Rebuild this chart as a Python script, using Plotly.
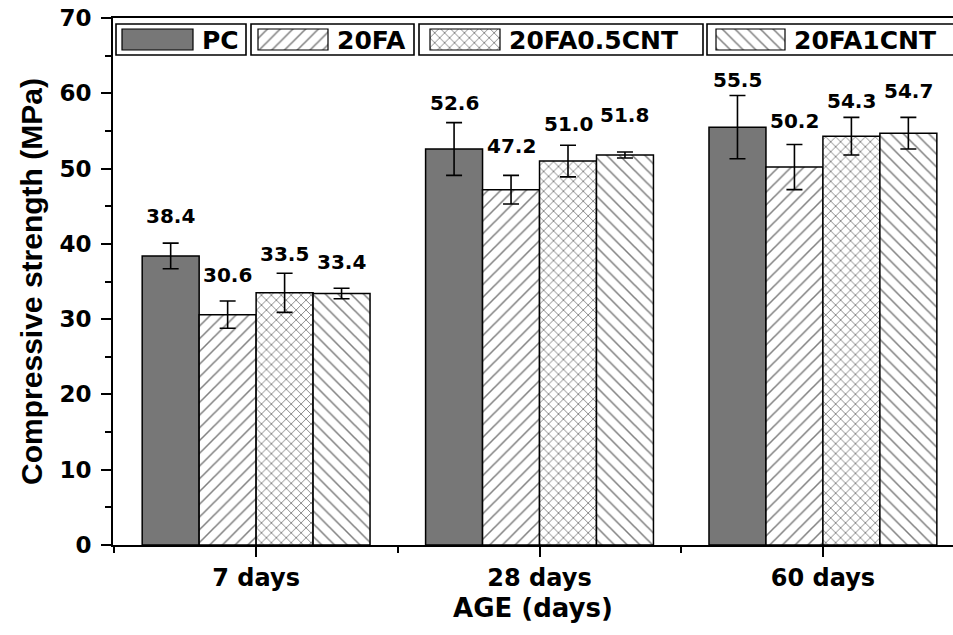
import plotly.graph_objects as go

# ---------------- data ----------------
categories = ["7 days", "28 days", "60 days"]
series_names = ["PC", "20FA", "20FA0.5CNT", "20FA1CNT"]
pc_vals = [38.4, 52.6, 55.5]
fa_vals = [30.6, 47.2, 50.2]
cnt05_vals = [33.5, 51.0, 54.3]
cnt1_vals = [33.4, 51.8, 54.7]
pc_err = [1.7, 3.5, 4.2]
fa_err = [1.8, 1.9, 3.0]
cnt05_err = [2.6, 2.1, 2.5]
cnt1_err = [0.7, 0.4, 2.1]

values = [pc_vals, fa_vals, cnt05_vals, cnt1_vals]
errors = [pc_err, fa_err, cnt05_err, cnt1_err]

# ---------------- styles ----------------
FONT_W = "DejaVu Sans, Verdana, sans-serif"
FONT_A = "Liberation Sans, Arial, sans-serif"
patterns = ["", "/", "x", "\\"]
pat_size = [0, 9, 7, 9]
pat_solid = [0, 0.17, 0.24, 0.17]
fills = ["#777777", "white", "white", "white"]
# label offsets above bar value, in pixels (per series, per category)
label_shift = [[40, 46, 47], [40, 44, 46], [39, 37, 35], [32, 40, 42]]

bargap = 0.196
group_w = 1 - bargap
bar_w = group_w / 4


def marker_for(i, lw):
    m = dict(color=fills[i], line=dict(color="black", width=lw))
    if patterns[i]:
        m["pattern"] = dict(shape=patterns[i], fgcolor="black", bgcolor="white",
                            size=pat_size[i], solidity=pat_solid[i])
    return m


fig = go.Figure()
xs = list(range(len(categories)))
for i, name in enumerate(series_names):
    fig.add_trace(go.Bar(
        x=xs, y=values[i], name=name, showlegend=False,
        marker=marker_for(i, 1.5),
        error_y=dict(type="data", array=errors[i], color="black", thickness=1.6, width=8),
    ))

annotations = []
for i in range(4):
    for j, x in enumerate(xs):
        cx = x - group_w / 2 + (i + 0.5) * bar_w
        annotations.append(dict(
            x=cx, y=values[i][j], xref="x", yref="y", text="<b>%.1f</b>" % values[i][j],
            showarrow=False, yshift=label_shift[i][j],
            font=dict(family=FONT_W, size=20, color="black")))

# ---------------- custom legend (pixel overlay axes) ----------------
box_x = [(116, 246), (251, 414), (419, 703), (707, 980)]
sw_x = [(122, 193), (258, 328), (430, 500), (716, 785)]
txt_x = [200, 335, 507, 792]
box_y = (24, 55)
sw_y = (29, 50)
shapes = []
for i, name in enumerate(series_names):
    shapes.append(dict(type="rect", xref="x2", yref="y2", x0=box_x[i][0], x1=box_x[i][1],
                       y0=box_y[0], y1=box_y[1], line=dict(color="black", width=1.6),
                       fillcolor="white", layer="below"))
    fig.add_trace(go.Bar(
        x=[sw_x[i][0]], y=[sw_y[1] - sw_y[0]], base=[sw_y[0]], width=[sw_x[i][1] - sw_x[i][0]],
        offset=0, xaxis="x2", yaxis="y2", showlegend=False, hoverinfo="skip",
        marker=marker_for(i, 1.2)))
    annotations.append(dict(x=txt_x[i], y=(box_y[0] + box_y[1]) / 2 + 1, xref="x2", yref="y2",
                            text="<b>%s</b>" % name, showarrow=False, xanchor="left",
                            font=dict(family=FONT_W, size=25, color="black")))

fig.update_layout(
    width=953, height=635,
    margin=dict(l=113, r=0, t=18, b=90),
    paper_bgcolor="white", plot_bgcolor="white",
    barmode="group", bargap=bargap, bargroupgap=0,
    showlegend=False,
    annotations=annotations, shapes=shapes,
    xaxis=dict(range=[-0.505, 2.459], tickmode="array", tickvals=xs, ticktext=categories,
               ticks="outside", ticklen=10, tickwidth=1.6, tickcolor="black",
               minor=dict(tickmode="array", tickvals=[-0.5, 0.5, 1.5], ticks="outside",
                          ticklen=6, tickwidth=1.6, tickcolor="black"),
               showline=True, linecolor="black", linewidth=1.6, mirror=True,
               showgrid=False, zeroline=False,
               tickfont=dict(family=FONT_W, size=24, color="black", weight="bold"),
               title=dict(text="AGE (days)", standoff=8,
                          font=dict(family=FONT_W, size=26, color="black", weight="bold"))),
    yaxis=dict(range=[0, 70], dtick=10, ticks="outside", ticklen=10, tickwidth=1.6,
               tickcolor="black", ticklabelstandoff=5,
               minor=dict(dtick=5, ticks="outside", ticklen=6, tickwidth=1.6, tickcolor="black"),
               showline=True, linecolor="black", linewidth=1.6, mirror=False,
               showgrid=False, zeroline=False,
               tickfont=dict(family=FONT_W, size=23, color="black", weight="bold"),
               title=dict(text="Compressive strength (MPa)", standoff=8,
                          font=dict(family=FONT_A, size=30, color="black", weight="bold"))),
    xaxis2=dict(range=[113, 953], overlaying="x", visible=False, fixedrange=True),
    yaxis2=dict(range=[545, 18], overlaying="y", visible=False, fixedrange=True),
)

fig.write_html("out.html")
